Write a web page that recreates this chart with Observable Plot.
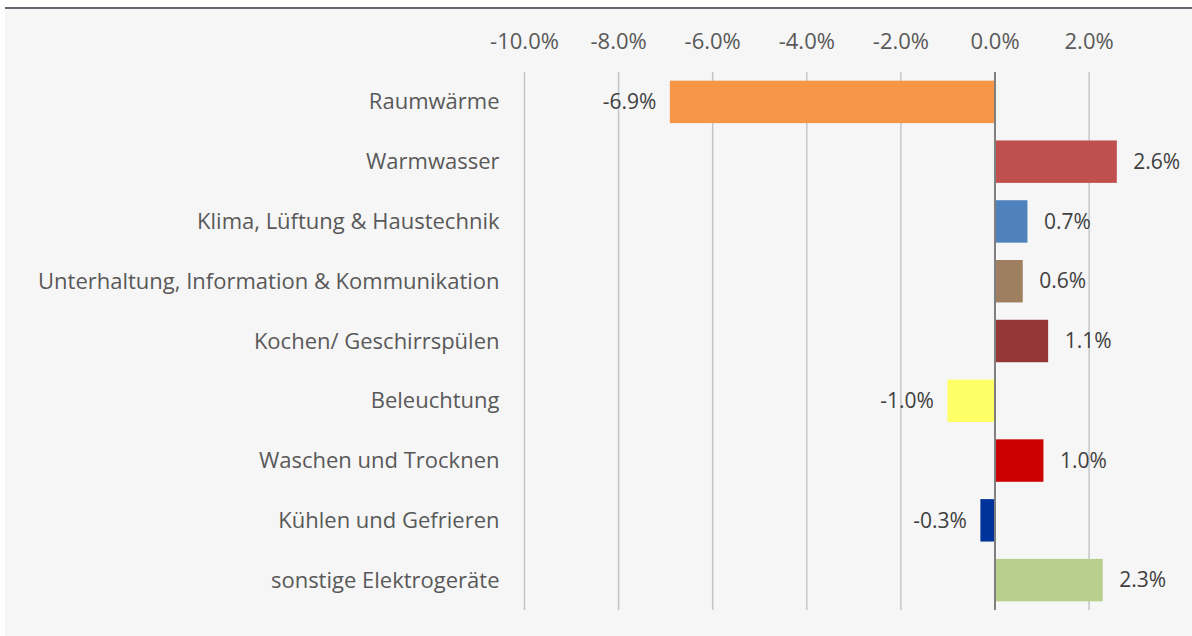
<!DOCTYPE html>
<html>
<head>
<meta charset="utf-8">
<script src="https://cdn.jsdelivr.net/npm/d3@7"></script>
<script src="https://cdn.jsdelivr.net/npm/@observablehq/plot@0.6"></script>
<style>
  html, body { margin: 0; padding: 0; background: #ffffff; }
  #frame {
    position: absolute; left: 5px; top: 7px; width: 1187px; height: 627px;
    border-top: 2px solid #5f6770; background: #f6f6f6;
  }
  #frame svg { display: block; }
</style>
</head>
<body>
<div id="frame"></div>
<script>
const categories = [
  "Raumwärme",
  "Warmwasser",
  "Klima, Lüftung & Haustechnik",
  "Unterhaltung, Information & Kommunikation",
  "Kochen/ Geschirrspülen",
  "Beleuchtung",
  "Waschen und Trocknen",
  "Kühlen und Gefrieren",
  "sonstige Elektrogeräte"
];
const values = [-6.9, 2.6, 0.7, 0.6, 1.14, -1.0, 1.04, -0.3, 2.3];
const colors = ["#f79646", "#c0504d", "#4f81bd", "#9e7f5f", "#953735", "#ffff66", "#cc0000", "#003399", "#b9cf8c"];
const xTicks = [-10, -8, -6, -4, -2, 0, 2];

const data = categories.map((c, i) => ({category: c, value: values[i], color: colors[i]}));
const pct = d => d.toFixed(1) + "%";
const font = "'Open Sans', 'Liberation Sans', sans-serif";

const chart = Plot.plot({
  width: 1187,
  height: 627,
  marginLeft: 519,
  marginRight: 103.4,
  marginTop: 63,
  marginBottom: 26,
  style: {background: "transparent", fontFamily: font, fontSize: "21px", color: "#595959"},
  x: {domain: [-10, 2], ticks: xTicks, tickFormat: pct},
  y: {domain: categories, paddingInner: 0.29, paddingOuter: 0.145, round: false},
  color: {type: "identity"},
  marks: [
    Plot.ruleX(xTicks.filter(t => t !== 0), {stroke: "#c3c6c9", strokeWidth: 1.5}),
    Plot.barX(data, {y: "category", x: "value", fill: "color"}),
    Plot.ruleX([0], {stroke: "#7f7f7f", strokeWidth: 2}),
    Plot.text(data.filter(d => d.value >= 0), {
      y: "category", x: "value", text: d => pct(d.value),
      textAnchor: "start", dx: 16, fill: "#404040", fontSize: 21
    }),
    Plot.text(data.filter(d => d.value < 0), {
      y: "category", x: "value", text: d => pct(d.value),
      textAnchor: "end", dx: -14, fill: "#404040", fontSize: 21
    }),
    Plot.axisX({anchor: "top", ticks: xTicks, tickFormat: pct, tickSize: 0, tickPadding: 24, label: null, fill: "#595959", fontSize: 22}),
    Plot.axisY({anchor: "left", tickSize: 0, tickPadding: 25, label: null, fill: "#595959", fontSize: 22})
  ]
});
document.getElementById("frame").appendChild(chart);
</script>
</body>
</html>
